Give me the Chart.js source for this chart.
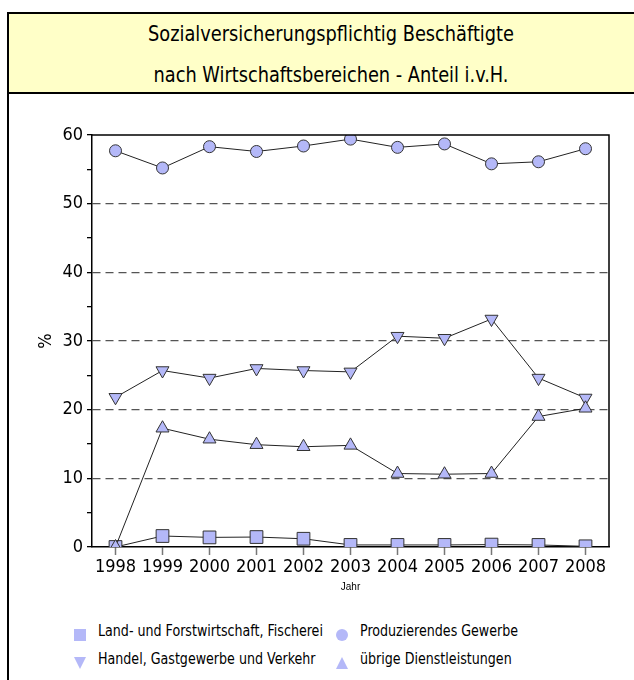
<!DOCTYPE html>
<html>
<head>
<meta charset="utf-8">
<script src="https://cdn.jsdelivr.net/npm/chart.js@4.4.0/dist/chart.umd.min.js"></script>
<style>
  body { margin: 0; width: 634px; height: 680px; overflow: hidden; background: #fff; position: relative; font-family: "Liberation Sans Narrow", "DejaVu Sans Condensed", "Liberation Sans", sans-serif; }
  #frame { position: absolute; left: 7px; top: 12px; width: 700px; height: 720px; border: 2px solid #000; box-sizing: border-box; }
  #title { position: absolute; left: 0; top: 0; width: 644px; height: 80px; background: #ffffc8; border-bottom: 2px solid #000; box-sizing: border-box; }
  #title div { position: absolute; left: 0; width: 644px; text-align: center; font-size: 21px; color: #000; transform: scaleX(0.94); transform-origin: 322px 0; }
  #wrap { position: absolute; left: 0; top: 100px; width: 634px; height: 500px; }
  .leg { position: absolute; font-size: 16px; color: #000; white-space: nowrap; transform: scaleX(0.88); transform-origin: 0 0; }
</style>
</head>
<body>
<div id="frame">
  <div id="title">
    <div style="top: 8px;">Sozialversicherungspflichtig Beschäftigte</div>
    <div style="top: 49px;">nach Wirtschaftsbereichen - Anteil i.v.H.</div>
  </div>
</div>
<div id="wrap"><canvas id="chart" width="634" height="500"></canvas></div>
<div id="legend"></div>
<script>
const years = ['1998', '1999', '2000', '2001', '2002', '2003', '2004', '2005', '2006', '2007', '2008'];
const seriesNames = ['Land- und Forstwirtschaft, Fischerei', 'Produzierendes Gewerbe', 'Handel, Gastgewerbe und Verkehr', 'übrige Dienstleistungen'];
const landwirtschaft = [0, 1.6, 1.4, 1.45, 1.2, 0.3, 0.3, 0.3, 0.35, 0.3, 0.1];
const produzierend = [57.7, 55.2, 58.3, 57.6, 58.4, 59.4, 58.2, 58.7, 55.8, 56.1, 58.0];
const handel = [21.8, 25.7, 24.6, 26.0, 25.7, 25.5, 30.7, 30.4, 33.2, 24.6, 21.7];
const dienstleistungen = [0, 17.3, 15.7, 14.9, 14.6, 14.8, 10.7, 10.6, 10.7, 19.0, 20.2];
const yTicks = [0, 10, 20, 30, 40, 50, 60];

const markerFill = '#b4b8f8';
const textFont = '"Liberation Sans Narrow", "DejaVu Sans Condensed", "Liberation Sans", sans-serif';

function makeSet(label, data, style, radius, rotation, order) {
  return {
    label: label,
    data: data,
    borderColor: '#222',
    borderWidth: 1,
    pointStyle: style,
    pointRadius: radius,
    pointRotation: rotation,
    pointBackgroundColor: markerFill,
    pointBorderColor: '#333',
    pointBorderWidth: 1,
    tension: 0,
    order: order
  };
}

// top and right edge of the plot box
const frameLines = {
  id: 'frameLines',
  afterDatasetsDraw(chart) {
    const a = chart.chartArea;
    const ctx = chart.ctx;
    ctx.save();
    ctx.strokeStyle = '#000';
    ctx.lineWidth = 1.5;
    ctx.beginPath();
    ctx.moveTo(a.left, a.top);
    ctx.lineTo(a.right, a.top);
    ctx.lineTo(a.right, a.bottom);
    ctx.stroke();
    ctx.restore();
  }
};

function renderChart() {
  const ctx = document.getElementById('chart').getContext('2d');
  new Chart(ctx, {
    type: 'line',
    data: {
      labels: years,
      datasets: [
        makeSet(seriesNames[0], landwirtschaft, 'rect', 9, 0, 4),
        makeSet(seriesNames[1], produzierend, 'circle', 6, 0, 3),
        makeSet(seriesNames[2], handel, 'triangle', 7.5, 180, 2),
        makeSet(seriesNames[3], dienstleistungen, 'triangle', 7.5, 0, 1)
      ]
    },
    options: {
      responsive: false,
      animation: false,
      events: [],
      layout: { padding: { top: 35, right: 25, bottom: 0, left: 0 } },
      plugins: { legend: { display: false }, tooltip: { enabled: false } },
      scales: {
        x: {
          offset: true,
          afterFit: s => { s.height = 53; },
          grid: { drawOnChartArea: false, drawTicks: true, tickLength: 8, tickColor: '#777', tickWidth: 1.5 },
          border: { color: '#000', width: 1.5 },
          ticks: { color: '#000', font: { family: textFont, size: 18 }, padding: 2, maxRotation: 0 },
          title: { display: true, text: 'Jahr', color: '#000', font: { family: 'Liberation Sans, Arial, sans-serif', size: 10 }, padding: { top: 0, bottom: 7 } }
        },
        y: {
          min: 0,
          max: 60,
          afterFit: s => { s.width = 92; },
          grid: {
            color: c => (c.tick && c.tick.value > 0 && c.tick.value < 60 && yTicks.includes(c.tick.value)) ? '#555' : 'rgba(0,0,0,0)',
            lineWidth: 1.3,
            tickColor: '#000',
            tickLength: 5,
            tickBorderDash: []
          },
          border: { color: '#000', width: 1.5, dash: [8, 5] },
          ticks: {
            stepSize: 5,
            autoSkip: false,
            color: '#000',
            padding: 4,
            font: { family: textFont, size: 18 },
            callback: v => yTicks.includes(v) ? String(v) : ''
          },
          title: { display: true, text: '%', color: '#000', font: { family: textFont, size: 18 }, padding: { top: 36, bottom: 0 } }
        }
      }
    },
    plugins: [frameLines]
  });
}

function marker(style) {
  const f = markerFill;
  if (style === 'rect') return '<svg width="12" height="12"><rect x="0" y="0" width="12" height="12" fill="' + f + '"/></svg>';
  if (style === 'circle') return '<svg width="12" height="12"><circle cx="6" cy="6" r="6" fill="' + f + '"/></svg>';
  if (style === 'down') return '<svg width="12" height="12"><polygon points="0,0 12,0 6,12" fill="' + f + '"/></svg>';
  return '<svg width="12" height="12"><polygon points="0,12 12,12 6,0" fill="' + f + '"/></svg>';
}

function renderLegend() {
  const items = [
    { name: seriesNames[0], style: 'rect', x: 74, y: 632 },
    { name: seriesNames[1], style: 'circle', x: 336, y: 632 },
    { name: seriesNames[2], style: 'down', x: 74, y: 660 },
    { name: seriesNames[3], style: 'up', x: 336, y: 660 }
  ];
  const legend = document.getElementById('legend');
  items.forEach(it => {
    const svgWrap = document.createElement('div');
    svgWrap.style.cssText = 'position:absolute;left:' + it.x + 'px;top:' + (it.y - 6) + 'px;width:12px;height:12px;';
    svgWrap.innerHTML = marker(it.style);
    legend.appendChild(svgWrap);
    const span = document.createElement('div');
    span.className = 'leg';
    span.style.left = (it.x + 24) + 'px';
    span.style.top = (it.y - 11) + 'px';
    span.textContent = it.name;
    legend.appendChild(span);
  });
}

window.onload = function () {
  renderChart();
  renderLegend();
};
</script>
</body>
</html>
